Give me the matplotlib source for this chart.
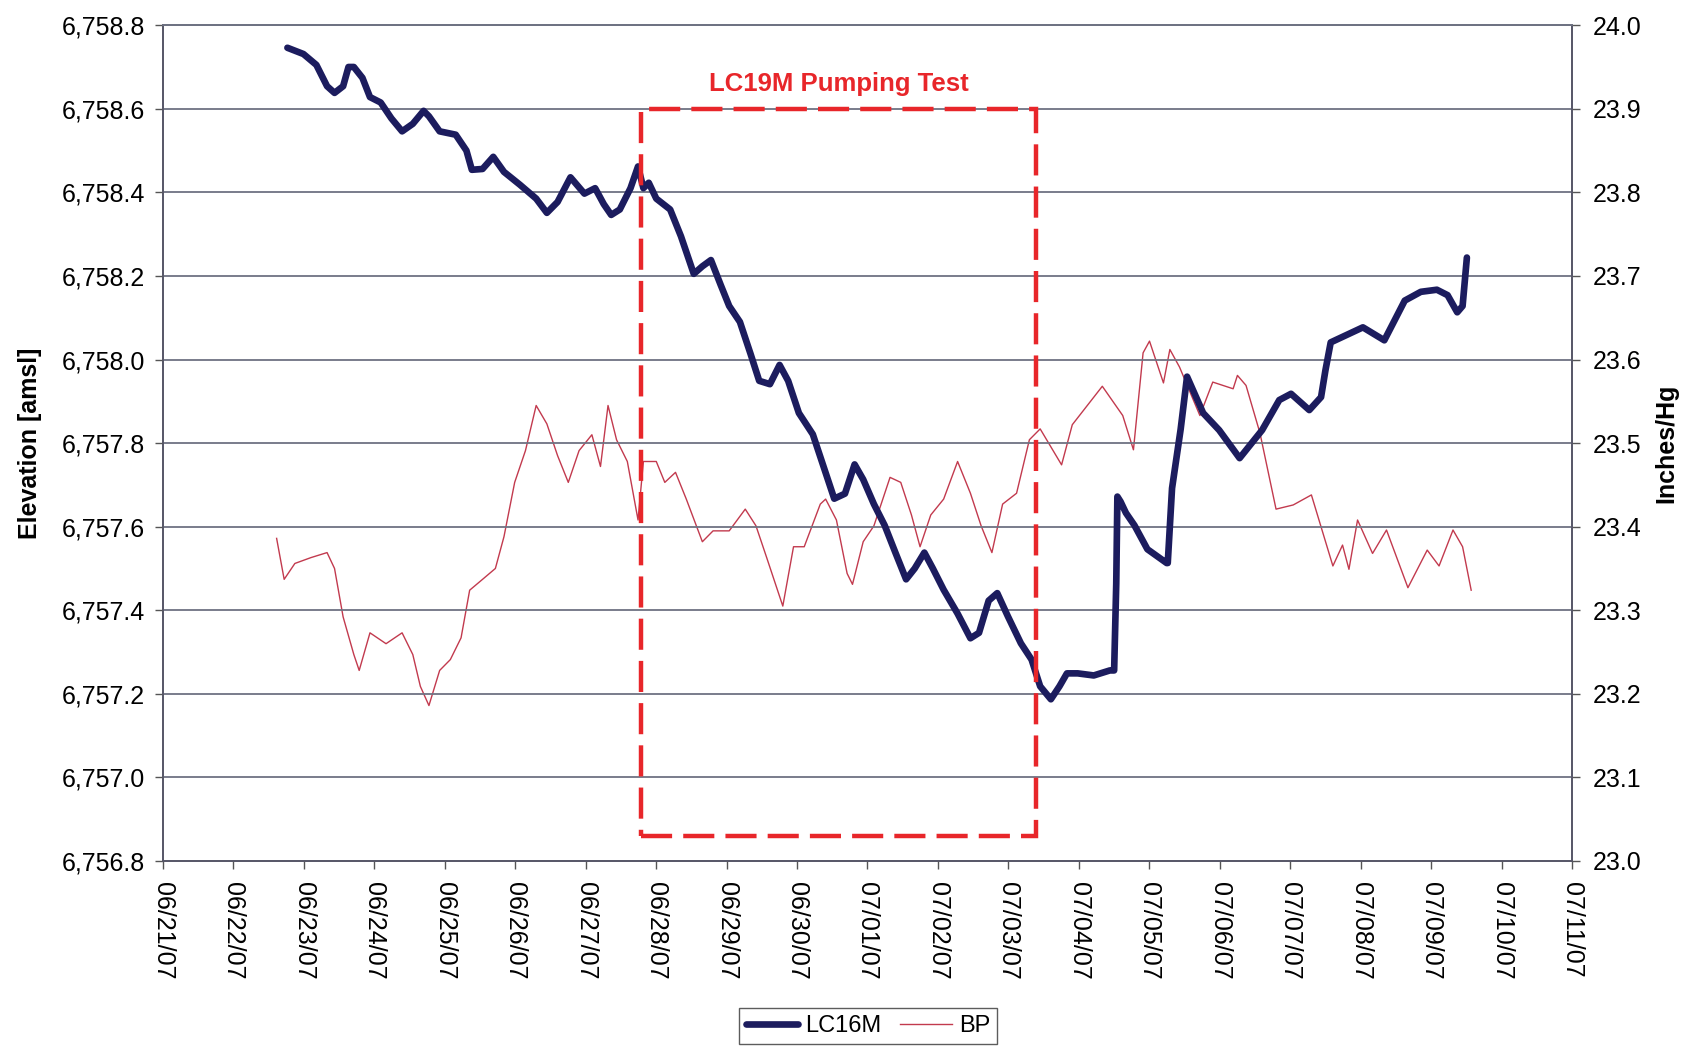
import matplotlib
matplotlib.use("Agg")
import matplotlib.pyplot as plt
import matplotlib.dates as mdates
from matplotlib.patches import Rectangle
import pandas as pd

plt.rcParams['font.family'] = ['Liberation Sans', 'DejaVu Sans']

# Days since 06/21/07 00:00
base_date = pd.Timestamp("2007-06-21")
x_start = pd.Timestamp("2007-06-21")
x_end = pd.Timestamp("2007-07-11")

lc16m_days = [1.766, 1.994, 2.177, 2.329, 2.435, 2.557, 2.633, 2.709, 2.831, 2.938,
              3.090, 3.242, 3.394, 3.546, 3.699, 3.775, 3.927, 4.155, 4.307, 4.384,
              4.536, 4.688, 4.840, 5.068, 5.297, 5.449, 5.601, 5.784, 5.982, 6.134,
              6.256, 6.362, 6.484, 6.636, 6.743, 6.819, 6.895, 7.002, 7.199, 7.352,
              7.534, 7.656, 7.778, 7.915, 8.037, 8.189, 8.341, 8.463, 8.615, 8.752,
              8.874, 9.026, 9.224, 9.376, 9.528, 9.680, 9.817, 9.939, 10.091, 10.244,
              10.396, 10.548, 10.670, 10.807, 10.928, 11.081, 11.279, 11.461, 11.583, 11.720,
              11.842, 11.994, 12.177, 12.329, 12.451, 12.603, 12.725, 12.831, 12.983, 13.212,
              13.440, 13.501, 13.531, 13.547, 13.592, 13.668, 13.790, 13.973, 14.247, 14.262,
              14.323, 14.445, 14.536, 14.764, 14.992, 15.282, 15.601, 15.845, 16.012, 16.271,
              16.438, 16.500, 16.575, 17.032, 17.336, 17.626, 17.854, 18.082, 18.234, 18.371,
              18.447, 18.508]
lc16m_elev = [6758.746, 6758.731, 6758.705, 6758.654, 6758.638, 6758.654, 6758.700, 6758.700, 6758.674, 6758.628,
              6758.615, 6758.577, 6758.546, 6758.564, 6758.595, 6758.582, 6758.546, 6758.538, 6758.500, 6758.454,
              6758.456, 6758.485, 6758.449, 6758.418, 6758.385, 6758.351, 6758.377, 6758.436, 6758.397, 6758.410,
              6758.372, 6758.346, 6758.359, 6758.410, 6758.462, 6758.410, 6758.423, 6758.385, 6758.359, 6758.295,
              6758.205, 6758.223, 6758.238, 6758.179, 6758.128, 6758.090, 6758.013, 6757.949, 6757.941, 6757.987,
              6757.949, 6757.872, 6757.821, 6757.744, 6757.667, 6757.679, 6757.749, 6757.713, 6757.654, 6757.603,
              6757.538, 6757.474, 6757.500, 6757.538, 6757.500, 6757.449, 6757.392, 6757.333, 6757.346, 6757.423,
              6757.441, 6757.385, 6757.321, 6757.282, 6757.218, 6757.187, 6757.218, 6757.249, 6757.249, 6757.244,
              6757.256, 6757.256, 6757.464, 6757.672, 6757.660, 6757.633, 6757.603, 6757.546, 6757.513, 6757.513,
              6757.692, 6757.833, 6757.959, 6757.872, 6757.831, 6757.764, 6757.831, 6757.903, 6757.918, 6757.879,
              6757.910, 6757.974, 6758.041, 6758.077, 6758.046, 6758.141, 6758.162, 6758.167, 6758.154, 6758.113,
              6758.128, 6758.244]

bp_days = [1.613, 1.720, 1.872, 2.100, 2.329, 2.435, 2.557, 2.709, 2.785, 2.938,
           3.166, 3.394, 3.546, 3.653, 3.775, 3.927, 4.079, 4.231, 4.353, 4.536,
           4.718, 4.840, 4.992, 5.145, 5.297, 5.449, 5.601, 5.753, 5.906, 6.088,
           6.210, 6.317, 6.438, 6.591, 6.743, 6.819, 7.002, 7.123, 7.275, 7.428,
           7.656, 7.808, 8.037, 8.265, 8.417, 8.569, 8.798, 8.950, 9.102, 9.330,
           9.406, 9.559, 9.711, 9.787, 9.939, 10.091, 10.320, 10.472, 10.624, 10.746,
           10.898, 11.081, 11.279, 11.461, 11.613, 11.766, 11.918, 12.116, 12.298, 12.451,
           12.755, 12.907, 13.333, 13.623, 13.775, 13.912, 14.003, 14.201, 14.292, 14.429,
           14.718, 14.901, 15.190, 15.251, 15.373, 15.571, 15.799, 16.043, 16.301, 16.606,
           16.743, 16.834, 16.956, 17.169, 17.367, 17.671, 17.945, 18.113, 18.311, 18.447,
           18.569]
bp_vals = [23.386, 23.337, 23.356, 23.363, 23.369, 23.350, 23.292, 23.247, 23.228, 23.273,
           23.260, 23.273, 23.247, 23.209, 23.186, 23.228, 23.241, 23.267, 23.324, 23.337,
           23.350, 23.388, 23.453, 23.491, 23.545, 23.523, 23.485, 23.453, 23.491, 23.510,
           23.472, 23.545, 23.504, 23.478, 23.408, 23.478, 23.478, 23.453, 23.465, 23.433,
           23.382, 23.395, 23.395, 23.421, 23.401, 23.363, 23.305, 23.376, 23.376, 23.427,
           23.433, 23.408, 23.344, 23.331, 23.382, 23.401, 23.459, 23.453, 23.414, 23.376,
           23.414, 23.433, 23.478, 23.440, 23.401, 23.369, 23.427, 23.440, 23.504, 23.517,
           23.474, 23.522, 23.568, 23.533, 23.492, 23.608, 23.622, 23.572, 23.612, 23.591,
           23.533, 23.573, 23.565, 23.581, 23.569, 23.512, 23.421, 23.426, 23.438, 23.353,
           23.378, 23.349, 23.408, 23.368, 23.396, 23.327, 23.372, 23.353, 23.396, 23.376,
           23.324]

# Pumping test box (days since 06/21/07, elevation)
test_start_day = 6.79
test_end_day = 12.39
test_box_bottom = 6756.859
test_box_top = 6758.6
test_label = "LC19M Pumping Test"

left_ticks = [6756.8, 6757.0, 6757.2, 6757.4, 6757.6, 6757.8, 6758.0, 6758.2, 6758.4, 6758.6, 6758.8]
right_ticks = [23.0, 23.1, 23.2, 23.3, 23.4, 23.5, 23.6, 23.7, 23.8, 23.9, 24.0]

navy = "#1c1c5e"
bp_color = "#c23a4e"
box_red = "#e8262a"
grid_color = "#6e7282"

def to_dates(days):
    return base_date + pd.to_timedelta(days, unit="D")

fig = plt.figure(figsize=(16.82, 10.5), dpi=100)
ax = fig.add_axes([0.0969, 0.18, 0.8377, 0.796])
ax2 = ax.twinx()

ax.set_zorder(ax2.get_zorder() + 1)
ax.patch.set_visible(False)

ax.set_ylim(6756.8, 6758.8)
ax2.set_ylim(23.0, 24.0)
ax.set_xlim(x_start, x_end)

ax.set_yticks(left_ticks)
ax.set_yticklabels([f"{v:,.1f}" for v in left_ticks])
ax2.set_yticks(right_ticks)
ax2.set_yticklabels([f"{v:.1f}" for v in right_ticks])

for y in left_ticks[1:]:
    ax.axhline(y, color=grid_color, lw=1.3, zorder=0)

bp_line, = ax2.plot(to_dates(bp_days), bp_vals, color=bp_color, lw=1.0, label="BP")
lc_line, = ax.plot(to_dates(lc16m_days), lc16m_elev, color=navy, lw=4.8, label="LC16M",
                   solid_joinstyle="round", solid_capstyle="round", zorder=3)

x0 = mdates.date2num(to_dates([test_start_day])[0])
x1 = mdates.date2num(to_dates([test_end_day])[0])
rect = Rectangle((x0, test_box_bottom), x1 - x0, test_box_top - test_box_bottom,
                 fill=False, edgecolor=box_red, lw=3.2, linestyle=(0, (7, 2.5)), zorder=4)
ax.add_patch(rect)
ax.text((x0 + x1) / 2, test_box_top + 0.03, test_label, color=box_red, fontsize=18.5,
        fontweight="bold", ha="center", va="bottom")

ax.xaxis.set_major_locator(mdates.DayLocator())
ax.xaxis.set_major_formatter(mdates.DateFormatter("%m/%d/%y"))
for lbl in ax.get_xticklabels():
    lbl.set_rotation(-90)
ax.tick_params(axis="x", labelsize=18, length=6, width=1, pad=9, color="#555555")
ax.tick_params(axis="y", labelsize=18, length=6, width=1, pad=7, color="#555555")
ax2.tick_params(axis="y", labelsize=18, length=6, width=1, pad=9, color="#555555")

for a in (ax, ax2):
    a.spines["top"].set_color(grid_color)
    a.spines["top"].set_linewidth(1.3)
    for s in ("left", "right", "bottom"):
        a.spines[s].set_color("#555566")
        a.spines[s].set_linewidth(1.2)

ax.set_ylabel("Elevation [amsl]", fontsize=18, fontweight="bold", labelpad=14)
ax2.set_ylabel("Inches/Hg", fontsize=18, fontweight="bold", labelpad=9)

leg = fig.legend(handles=[lc_line, bp_line], labels=["LC16M", "BP"], loc="center",
                 bbox_to_anchor=(0.516, 0.023), ncol=2, fontsize=17, frameon=True,
                 fancybox=False, handlelength=2.2, columnspacing=0.8, handletextpad=0.3,
                 borderpad=0.3)
leg.get_frame().set_edgecolor("#333333")
leg.get_frame().set_linewidth(1.0)

fig.savefig("out.png", dpi=100)
